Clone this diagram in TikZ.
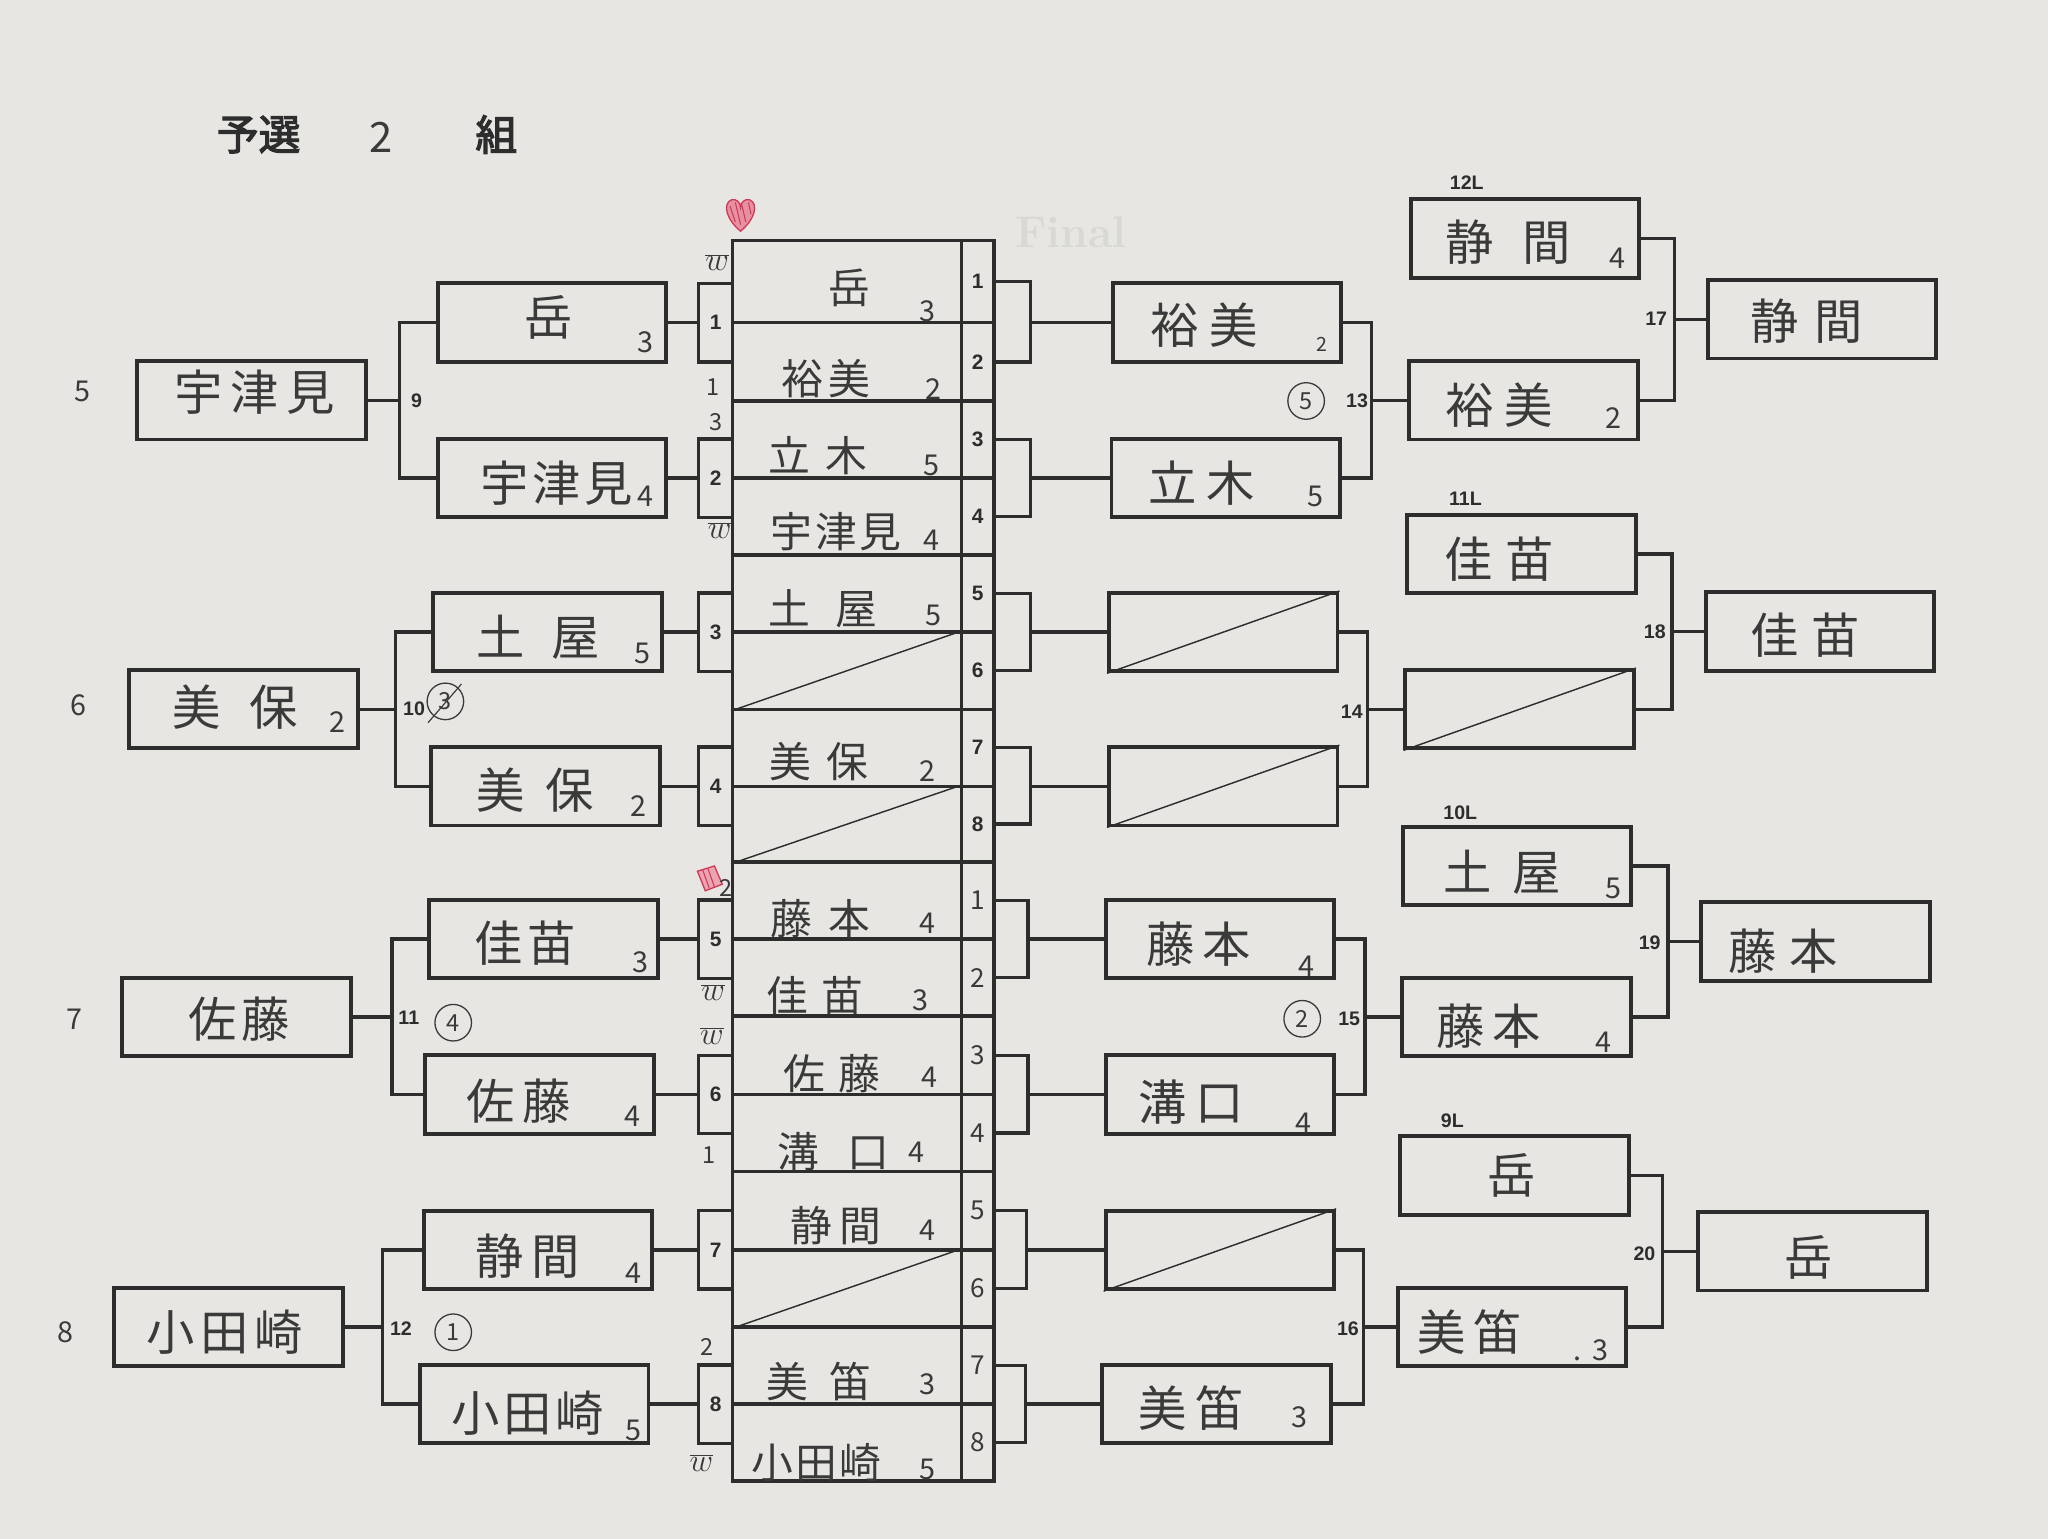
\documentclass[tikz,border=0pt]{standalone}
\usepackage{fontspec}
\newfontfamily\jpfont{Noto Sans CJK JP}
\newfontfamily\jpbold[FakeBold=3]{Noto Sans CJK JP}
\newfontfamily\numfont{Liberation Sans}
\usetikzlibrary{positioning,calc}

\definecolor{paper}{RGB}{231,230,227}
\definecolor{ink}{RGB}{45,45,45}
\definecolor{pencil}{RGB}{58,58,58}
\definecolor{ghostgray}{RGB}{216,216,213}
\definecolor{heartred}{RGB}{210,55,85}

\tikzset{
  namebox/.style={draw=ink,line width=3pt,minimum width=175pt,minimum height=60pt,inner sep=0pt},
  numbox/.style={draw=ink,line width=2.6pt,minimum width=26pt,minimum height=60pt,inner sep=0pt,text=ink,font=\numfont\bfseries\fontsize{16}{16}\selectfont},
  sheetcell/.style={draw=ink,line width=2.6pt,minimum width=175pt,inner sep=0pt},
  numcell/.style={draw=ink,line width=2.6pt,minimum width=25pt,inner sep=0pt,text=ink,font=\numfont\bfseries\fontsize{16}{16}\selectfont},
  handcell/.style={numcell,text=pencil,font=\jpfont\fontsize{20}{20}\selectfont},
  link/.style={draw=ink,line width=2.6pt},
  crossline/.style={draw=ink,line width=1.1pt},
  hand/.style={text=pencil,font=\jpfont\fontsize{37}{37}\selectfont},
  cellhand/.style={text=pencil,font=\jpfont\fontsize{32}{32}\selectfont},
  score/.style={text=pencil,font=\jpfont\fontsize{22}{22}\selectfont},
  jot/.style={text=pencil,font=\jpfont\fontsize{18}{18}\selectfont},
  wjot/.style={text=pencil,font=\fontsize{24}{24}\selectfont},
  matchno/.style={text=ink,font=\numfont\bfseries\fontsize{15}{15}\selectfont},
  ringed/.style={draw=pencil,circle,line width=1pt,minimum size=28pt,inner sep=0pt,text=pencil,font=\jpfont\fontsize{18}{18}\selectfont},
}

\begin{document}
\begin{tikzpicture}[x=1pt,y=1pt,yscale=-1,xscale=1]
%paper
\fill[paper] (0,0) rectangle (1568,1178);
\useasboundingbox (0,0) rectangle (1568,1178);

% Text Node (seen through the paper)
\node[text=ghostgray,font=\bfseries\fontsize{34}{34}\selectfont] (tFinal) at (820,178) {Final};

% Title
\node[text=ink,font=\jpbold\fontsize{32}{32}\selectfont] (tYosen) at (198,103) {予選};
\node[text=pencil,font=\jpfont\fontsize{32}{32}\selectfont] (tGroupNo) at (292,105) {2};
\node[text=ink,font=\jpbold\fontsize{32}{32}\selectfont] (tKumi) at (380,103) {組};

%Shape: Heart
\draw[heartred,line width=1pt,fill=heartred!55] (567,177) .. controls (556,168) and (553,156) .. (560,153) .. controls (564,152) and (567,155) .. (567,159) .. controls (567,155) and (570,152) .. (574,153) .. controls (581,156) and (578,168) .. (567,177) -- cycle;
\draw[heartred,line width=0.8pt] (559,158) -- (563,170) (563,155) -- (567,172) (568,157) -- (571,170) (573,155) -- (575,164);
%Shape: red mark
\draw[heartred,line width=1pt,fill=heartred!45] (534,667) -- (547,663) -- (553,677) -- (540,682) -- cycle;
\draw[heartred,line width=0.8pt] (538,666) -- (543,680) (542,665) -- (547,679);

% Round 2 boxes (left)
\node[namebox] (L5) at (192.5,306.5) {};
\node[namebox] (L6) at (186.5,543) {};
\node[namebox] (L7) at (181,778.5) {};
\node[namebox] (L8) at (175,1016) {};

% Round 1 boxes
\node[namebox] (A1) at (422.5,247) {};
\node[namebox] (A2) at (422.5,366) {};
\node[namebox] (A3) at (419,484) {};
\node[namebox] (A4) at (417.5,602) {};
\node[namebox] (A5) at (416,719) {};
\node[namebox] (A6) at (413,838) {};
\node[namebox] (A7) at (412,957) {};
\node[namebox] (A8) at (409,1075) {};

% match boxes
\node[numbox] (S1) at (548,247) {1};
\node[numbox] (S2) at (548,366) {2};
\node[numbox] (S3) at (548,484) {3};
\node[numbox] (S4) at (548,602) {4};
\node[numbox] (S5) at (548,719) {5};
\node[numbox] (S6) at (548,838) {6};
\node[numbox] (S7) at (548,957) {7};
\node[numbox] (S8) at (548,1075) {8};

% score sheet, upper half
\node[sheetcell,minimum height=63] (c1) at (648.5,215.5) {};
\node[sheetcell,minimum height=60] (c2) at (648.5,277) {};
\node[sheetcell,minimum height=59] (c3) at (648.5,336.5) {};
\node[sheetcell,minimum height=59] (c4) at (648.5,395.5) {};
\node[sheetcell,minimum height=59] (c5) at (648.5,454.5) {};
\node[sheetcell,minimum height=59] (c6) at (648.5,513.5) {};
\node[sheetcell,minimum height=59] (c7) at (648.5,572.5) {};
\node[sheetcell,minimum height=58] (c8) at (648.5,631) {};
\node[numcell,minimum height=63] (n1) at (748.5,215.5) {1};
\node[numcell,minimum height=60] (n2) at (748.5,277) {2};
\node[numcell,minimum height=59] (n3) at (748.5,336.5) {3};
\node[numcell,minimum height=59] (n4) at (748.5,395.5) {4};
\node[numcell,minimum height=59] (n5) at (748.5,454.5) {5};
\node[numcell,minimum height=59] (n6) at (748.5,513.5) {6};
\node[numcell,minimum height=59] (n7) at (748.5,572.5) {7};
\node[numcell,minimum height=58] (n8) at (748.5,631) {8};

% score sheet, lower half
\node[sheetcell,minimum height=59] (d1) at (648.5,689.5) {};
\node[sheetcell,minimum height=59] (d2) at (648.5,748.5) {};
\node[sheetcell,minimum height=60] (d3) at (648.5,808) {};
\node[sheetcell,minimum height=59] (d4) at (648.5,867.5) {};
\node[sheetcell,minimum height=60] (d5) at (648.5,927) {};
\node[sheetcell,minimum height=59] (d6) at (648.5,986.5) {};
\node[sheetcell,minimum height=59] (d7) at (648.5,1045.5) {};
\node[sheetcell,minimum height=59] (d8) at (648.5,1104.5) {};
\node[handcell,minimum height=59] (p1) at (748.5,689.5) {1};
\node[handcell,minimum height=59] (p2) at (748.5,748.5) {2};
\node[handcell,minimum height=60] (p3) at (748.5,808) {3};
\node[handcell,minimum height=59] (p4) at (748.5,867.5) {4};
\node[handcell,minimum height=60] (p5) at (748.5,927) {5};
\node[handcell,minimum height=59] (p6) at (748.5,986.5) {6};
\node[handcell,minimum height=59] (p7) at (748.5,1045.5) {7};
\node[handcell,minimum height=59] (p8) at (748.5,1104.5) {8};

%Straight Lines: crossed out rows
\draw[crossline] (c6.south west) -- (c6.north east);
\draw[crossline] (c8.south west) -- (c8.north east);
\draw[crossline] (d6.south west) -- (d6.north east);

% Round 1 winners (right of the sheet)
\node[namebox] (B1) at (939.5,247) {};
\node[namebox] (B2) at (938.5,366) {};
\node[namebox] (B3) at (936.5,484) {};
\node[namebox] (B4) at (936.5,602) {};
\node[namebox] (B5) at (934,719) {};
\node[namebox] (B6) at (934,838) {};
\node[namebox] (B7) at (934,957) {};
\node[namebox] (B8) at (931.5,1075) {};
\draw[crossline] (B3.south west) -- (B3.north east);
\draw[crossline] (B4.south west) -- (B4.north east);
\draw[crossline] (B7.south west) -- (B7.north east);

% next column
\node[namebox] (C1) at (1167.5,182.5) {};
\node[namebox] (C2) at (1166.5,306.5) {};
\node[namebox] (C3) at (1165,424) {};
\node[namebox] (C4) at (1163.5,543) {};
\node[namebox] (C5) at (1161.5,663) {};
\node[namebox] (C6) at (1161,778.5) {};
\node[namebox] (C7) at (1159.5,900) {};
\node[namebox] (C8) at (1157.5,1016) {};
\draw[crossline] (C4.south west) -- (C4.north east);

% final column
\node[namebox] (F1) at (1395,244.5) {};
\node[namebox] (F2) at (1393.5,483.5) {};
\node[namebox] (F3) at (1390,720.75) {};
\node[namebox] (F4) at (1387.5,958) {};

% bracket joints
\coordinate (m9) at (306,306.5);
\coordinate (m10) at (303,543);
\coordinate (m11) at (300,778.5);
\coordinate (m12) at (293,1016);
\coordinate (k1) at (789,247);
\coordinate (k2) at (789,366);
\coordinate (k3) at (789,484);
\coordinate (k4) at (789,602);
\coordinate (k5) at (787,719);
\coordinate (k6) at (787,838);
\coordinate (k7) at (786,957);
\coordinate (k8) at (785,1075);
\coordinate (m13) at (1050,306.5);
\coordinate (m14) at (1047,543);
\coordinate (m15) at (1045,778.5);
\coordinate (m16) at (1044,1016);
\coordinate (m17) at (1282,244.5);
\coordinate (m18) at (1280,483.5);
\coordinate (m19) at (1277,720.75);
\coordinate (m20) at (1273,958);

%Straight Lines: left brackets
\draw[link] (A1.west) -| (m9) |- (A2.west);
\draw[link] (L5.east) -- (m9);
\draw[link] (A3.west) -| (m10) |- (A4.west);
\draw[link] (L6.east) -- (m10);
\draw[link] (A5.west) -| (m11) |- (A6.west);
\draw[link] (L7.east) -- (m11);
\draw[link] (A7.west) -| (m12) |- (A8.west);
\draw[link] (L8.east) -- (m12);

%Straight Lines: round 1 to match boxes
\draw[link] (A1.east) -- (S1.west);
\draw[link] (A2.east) -- (S2.west);
\draw[link] (A3.east) -- (S3.west);
\draw[link] (A4.east) -- (S4.west);
\draw[link] (A5.east) -- (S5.west);
\draw[link] (A6.east) -- (S6.west);
\draw[link] (A7.east) -- (S7.west);
\draw[link] (A8.east) -- (S8.west);

%Straight Lines: sheet to round 1 winners
\draw[link] (n1.east) -| (k1) |- (n2.east);
\draw[link] (k1) -- (B1.west);
\draw[link] (n3.east) -| (k2) |- (n4.east);
\draw[link] (k2) -- (B2.west);
\draw[link] (n5.east) -| (k3) |- (n6.east);
\draw[link] (k3) -- (B3.west);
\draw[link] (n7.east) -| (k4) |- (n8.east);
\draw[link] (k4) -- (B4.west);
\draw[link] (p1.east) -| (k5) |- (p2.east);
\draw[link] (k5) -- (B5.west);
\draw[link] (p3.east) -| (k6) |- (p4.east);
\draw[link] (k6) -- (B6.west);
\draw[link] (p5.east) -| (k7) |- (p6.east);
\draw[link] (k7) -- (B7.west);
\draw[link] (p7.east) -| (k8) |- (p8.east);
\draw[link] (k8) -- (B8.west);

%Straight Lines: right brackets
\draw[link] (B1.east) -| (m13) |- (B2.east);
\draw[link] (m13) -- (C2.west);
\draw[link] (B3.east) -| (m14) |- (B4.east);
\draw[link] (m14) -- (C4.west);
\draw[link] (B5.east) -| (m15) |- (B6.east);
\draw[link] (m15) -- (C6.west);
\draw[link] (B7.east) -| (m16) |- (B8.east);
\draw[link] (m16) -- (C8.west);
\draw[link] (C1.east) -| (m17) |- (C2.east);
\draw[link] (m17) -- (F1.west);
\draw[link] (C3.east) -| (m18) |- (C4.east);
\draw[link] (m18) -- (F2.west);
\draw[link] (C5.east) -| (m19) |- (C6.east);
\draw[link] (m19) -- (F3.west);
\draw[link] (C7.east) -| (m20) |- (C8.east);
\draw[link] (m20) -- (F4.west);

% match numbers
\node[matchno] (t9) at (319,307) {9};
\node[matchno] (t10) at (317,543) {10};
\node[matchno] (t11) at (313,779) {11};
\node[matchno] (t12) at (307,1017) {12};
\node[matchno] (t13) at (1039,307) {13};
\node[matchno] (t14) at (1035,545) {14};
\node[matchno] (t15) at (1033,780) {15};
\node[matchno] (t16) at (1032,1017) {16};
\node[matchno] (t17) at (1268,244) {17};
\node[matchno] (t18) at (1267,484) {18};
\node[matchno] (t19) at (1263,722) {19};
\node[matchno] (t20) at (1259,960) {20};
\node[matchno] (t12L) at (1123,140) {12L};
\node[matchno] (t11L) at (1122,382) {11L};
\node[matchno] (t10L) at (1118,622) {10L};
\node[matchno] (t9L) at (1112,858) {9L};

% seed numbers
\node[score] (q5) at (63,300) {5};
\node[score] (q6) at (60,540) {6};
\node[score] (q7) at (57,780) {7};
\node[score] (q8) at (50,1020) {8};

% circled notes
\node[ringed] (o3) at (341,537) {3};
\draw[pencil,line width=0.9pt] ([shift={(-3,6)}]o3.south west) -- ([shift={(2,-3)}]o3.north east);
\node[ringed] (o4) at (347,783) {4};
\node[ringed] (o1) at (347,1020) {1};
\node[ringed] (o5) at (1000,307) {5};
\node[ringed] (o2) at (997,780) {2};

% jots beside the match boxes
\node[wjot] (j1) at (549,201) {$\overline{w}$};
\node[jot] (j2) at (546,296) {1};
\node[jot] (j3) at (548,323) {3};
\node[wjot] (j4) at (551,406) {$\overline{w}$};
\node[jot] (j5) at (556,680) {2};
\node[wjot] (j6) at (546,760) {$\overline{w}$};
\node[wjot] (j7) at (545,793) {$\overline{w}$};
\node[jot] (j8) at (543,884) {1};
\node[jot] (j9) at (541,1031) {2};
\node[wjot] (j10) at (537,1120) {$\overline{w}$};

% Text Node: left names
\node[hand] (nL5) at (195,300) {宇\hspace{6pt}津\hspace{6pt}見};
\node[hand] (nL6) at (180,541) {美\hspace{22pt}保};
\node[score] (sL6) at (258,553) {2};
\node[hand] (nL7) at (183,780) {佐\hspace{4pt}藤};
\node[hand] (nL8) at (172,1020) {小\hspace{4pt}田\hspace{4pt}崎};

% Text Node: round 1 names
\node[hand] (nA1) at (420,243) {岳};
\node[score] (sA1) at (494,262) {3};
\node[hand] (nA2) at (426,370) {宇\hspace{3pt}津\hspace{3pt}見};
\node[score] (sA2) at (494,380) {4};
\node[hand] (nA3) at (412,488) {土\hspace{20pt}屋};
\node[score] (sA3) at (492,500) {5};
\node[hand] (nA4) at (410,605) {美\hspace{16pt}保};
\node[score] (sA4) at (489,617) {2};
\node[hand] (nA5) at (402,722) {佳\hspace{4pt}苗};
\node[score] (sA5) at (490,737) {3};
\node[hand] (nA6) at (397,843) {佐\hspace{6pt}藤};
\node[score] (sA6) at (484,855) {4};
\node[hand] (nA7) at (404,962) {静\hspace{6pt}間};
\node[score] (sA7) at (485,975) {4};
\node[hand] (nA8) at (404,1082) {小\hspace{3pt}田\hspace{3pt}崎};
\node[score] (sA8) at (485,1095) {5};

% Text Node: score sheet
\node[cellhand] (nc1) at (650,220) {岳};
\node[score] (sc1) at (710,238) {3};
\node[cellhand] (nc2) at (632,290) {裕\hspace{4pt}美};
\node[score] (sc2) at (715,298) {2};
\node[cellhand] (nc3) at (626,349) {立\hspace{12pt}木};
\node[score] (sc3) at (713,356) {5};
\node[cellhand] (nc4) at (640,407) {宇\hspace{2pt}津\hspace{2pt}見};
\node[score] (sc4) at (713,414) {4};
\node[cellhand] (nc5) at (630,466) {土\hspace{20pt}屋};
\node[score] (sc5) at (715,471) {5};
\node[cellhand] (nc7) at (627,583) {美\hspace{12pt}保};
\node[score] (sc7) at (710,590) {2};
\node[cellhand] (nd1) at (628,703) {藤\hspace{12pt}本};
\node[score] (sd1) at (710,707) {4};
\node[cellhand] (nd2) at (624,762) {佳\hspace{10pt}苗};
\node[score] (sd2) at (705,766) {3};
\node[cellhand] (nd3) at (637,822) {佐\hspace{10pt}藤};
\node[score] (sd3) at (712,825) {4};
\node[cellhand] (nd4) at (638,882) {溝\hspace{22pt}口};
\node[score] (sd4) at (702,882) {4};
\node[cellhand] (nd5) at (640,938) {静\hspace{6pt}間};
\node[score] (sd5) at (710,942) {4};
\node[cellhand] (nd7) at (627,1058) {美\hspace{16pt}笛};
\node[score] (sd7) at (710,1060) {3};
\node[cellhand] (nd8) at (625,1120) {小\hspace{2pt}田\hspace{2pt}崎};
\node[score] (sd8) at (710,1125) {5};

% Text Node: round 1 winners
\node[hand] (nB1) at (922,249) {裕\hspace{8pt}美};
\node[score,font=\jpfont\fontsize{15}{15}\selectfont] (sB1) at (1012,264) {2};
\node[hand] (nB2) at (920,370) {立\hspace{8pt}木};
\node[score] (sB2) at (1007,380) {5};
\node[hand] (nB5) at (918,723) {藤\hspace{6pt}本};
\node[score] (sB5) at (1000,740) {4};
\node[hand] (nB6) at (912,844) {溝\hspace{6pt}口};
\node[score] (sB6) at (998,860) {4};
\node[hand] (nB8) at (912,1078) {美\hspace{6pt}笛};
\node[score] (sB8) at (995,1085) {3};

% Text Node: next column
\node[hand] (nC1) at (1155,185) {静\hspace{22pt}間};
\node[score] (sC1) at (1238,198) {4};
\node[hand] (nC2) at (1148,310) {裕\hspace{8pt}美};
\node[score] (sC2) at (1235,320) {2};
\node[hand] (nC3) at (1148,428) {佳\hspace{10pt}苗};
\node[hand] (nC5) at (1150,668) {土\hspace{16pt}屋};
\node[score] (sC5) at (1235,680) {5};
\node[hand] (nC6) at (1140,786) {藤\hspace{6pt}本};
\node[score] (sC6) at (1228,798) {4};
\node[hand] (nC7) at (1157,900) {岳};
\node[hand] (nC8) at (1125,1020) {美\hspace{6pt}笛};
\node[score] (sC8) at (1218,1034) {.\hspace{8pt}3};

% Text Node: final column
\node[hand] (nF1) at (1383,246) {静\hspace{12pt}間};
\node[hand] (nF2) at (1382,486) {佳\hspace{10pt}苗};
\node[hand] (nF3) at (1365,728) {藤\hspace{10pt}本};
\node[hand] (nF4) at (1385,963) {岳};

\end{tikzpicture}
\end{document}
